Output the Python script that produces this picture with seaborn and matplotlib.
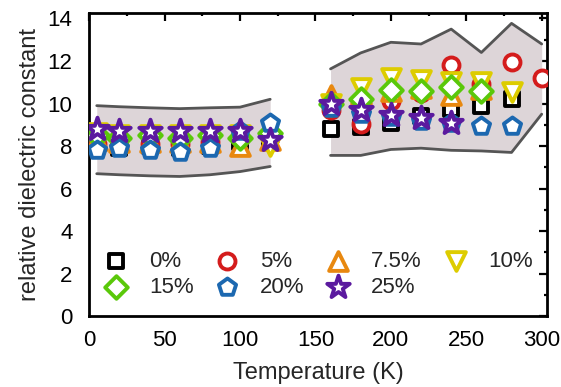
import numpy as np
import pandas as pd
import matplotlib
matplotlib.use("Agg")
import matplotlib.pyplot as plt
import seaborn as sns
from matplotlib.ticker import MultipleLocator

sns.set_theme(style="white")
plt.rcParams['font.family'] = ['Liberation Sans', 'DejaVu Sans']

# ---- data ----
t_low = [5, 20, 40, 60, 80, 100, 120]
t_high = [160, 180, 200, 220, 240, 260, 280, 300]
temps = t_low + t_high

labels = ["0%", "5%", "7.5%", "10%", "15%", "20%", "25%"]
nan = np.nan
v0 = [8.0, 7.9, 8.0, 7.9, 8.0, 8.2, 8.3, 8.8, 8.9, 9.1, 9.4, 9.75, 9.9, 10.2, nan]
v5 = [8.1, 8.0, 8.1, 8.1, 8.2, 8.4, 8.4, 9.7, 9.05, 10.1, 10.5, 11.8, 10.9, 11.95, 11.2]
v75 = [8.3, 8.2, 8.2, 8.2, 8.2, 8.0, 8.3, 10.4, 10.45, 10.6, 10.75, 10.4, 10.7, nan, nan]
v10 = [8.6, 8.5, 8.5, 8.5, 8.5, 8.5, 8.0, 10.0, 10.75, 11.2, 11.1, 11.0, 11.0, 10.55, nan]
v15 = [8.5, 8.4, 8.5, 8.4, 8.5, 8.4, 8.6, 10.0, 10.2, 10.65, 10.6, 10.8, 10.6, nan, nan]
v20 = [7.8, 7.9, 7.8, 7.7, 7.9, 8.7, 9.1, 9.8, 9.5, 9.35, 9.2, 9.1, 8.95, 8.95, nan]
v25 = [8.8, 8.7, 8.7, 8.7, 8.7, 8.7, 8.3, 10.0, 9.7, 9.45, 9.3, 9.1, nan, nan, nan]
series = [v0, v5, v75, v10, v15, v20, v25]

band_low_upper = [9.9, 9.85, 9.8, 9.76, 9.8, 9.83, 10.2]
band_low_lower = [6.7, 6.65, 6.6, 6.57, 6.65, 6.8, 7.04]
band_high_upper = [11.63, 12.38, 12.88, 12.8, 13.5, 12.4, 13.77, 12.8]
band_high_lower = [7.56, 7.56, 7.84, 7.9, 7.8, 7.77, 7.7, 9.5]

colors = ["#000000", "#D41C1C", "#E8880F", "#DDCC00", "#5AC80A", "#1C68B0", "#5B1A9F"]
markers = ["s", "o", "^", "v", "D", "p", "*"]
sizes = [10.0, 11.5, 13.5, 13.5, 11.5, 13.0, 17.0]

fig = plt.figure(figsize=(5.61, 3.87), dpi=100)
ax = fig.add_axes([0.159, 0.183, 0.816, 0.783])

band_fill = "#DDD5D8"
band_line = "#555555"
for tt, up, lo in [(t_low, band_low_upper, band_low_lower), (t_high, band_high_upper, band_high_lower)]:
    ax.fill_between(tt, lo, up, color=band_fill, lw=0, zorder=1)
    sns.lineplot(x=tt, y=up, ax=ax, color=band_line, lw=2, zorder=2, legend=False)
    sns.lineplot(x=tt, y=lo, ax=ax, color=band_line, lw=2, zorder=2, legend=False)

for i, (lab, vals) in enumerate(zip(labels, series)):
    df = pd.DataFrame({"T": temps, "eps": vals}).dropna()
    sns.scatterplot(data=df, x="T", y="eps", ax=ax, marker=markers[i],
                    s=sizes[i] ** 2, facecolor="white", edgecolor=colors[i],
                    linewidth=2.8, label=lab, zorder=3 + i)

ax.set_xlim(0, 303.5)
ax.set_ylim(0, 14.25)
ax.xaxis.set_major_locator(MultipleLocator(50))
ax.xaxis.set_minor_locator(MultipleLocator(25))
ax.yaxis.set_major_locator(MultipleLocator(2))
ax.yaxis.set_minor_locator(MultipleLocator(1))
ax.tick_params(which="both", direction="in", top=True, right=True, width=1.6,
               colors="black", labelsize=16)
ax.tick_params(axis="x", which="both", pad=10)
ax.tick_params(axis="y", which="both", pad=12)
ax.tick_params(which="major", length=5.5)
ax.tick_params(which="minor", length=2.5)
for s in ax.spines.values():
    s.set_linewidth(2)
    s.set_color("black")

ax.set_xlabel("Temperature (K)", fontsize=17, labelpad=8)
ax.set_ylabel("relative dielectric constant", fontsize=17, labelpad=5)

h, l = ax.get_legend_handles_labels()
order = [0, 4, 1, 5, 2, 6, 3]
ax.legend([h[k] for k in order], [l[k] for k in order], ncol=4, loc="lower left",
          bbox_to_anchor=(0.0, 0.03), borderaxespad=0,
          frameon=False, fontsize=16, handletextpad=0.68, columnspacing=0.72,
          labelspacing=0.25, handlelength=1.6, scatterpoints=1)

fig.savefig("out.png", dpi=100)
